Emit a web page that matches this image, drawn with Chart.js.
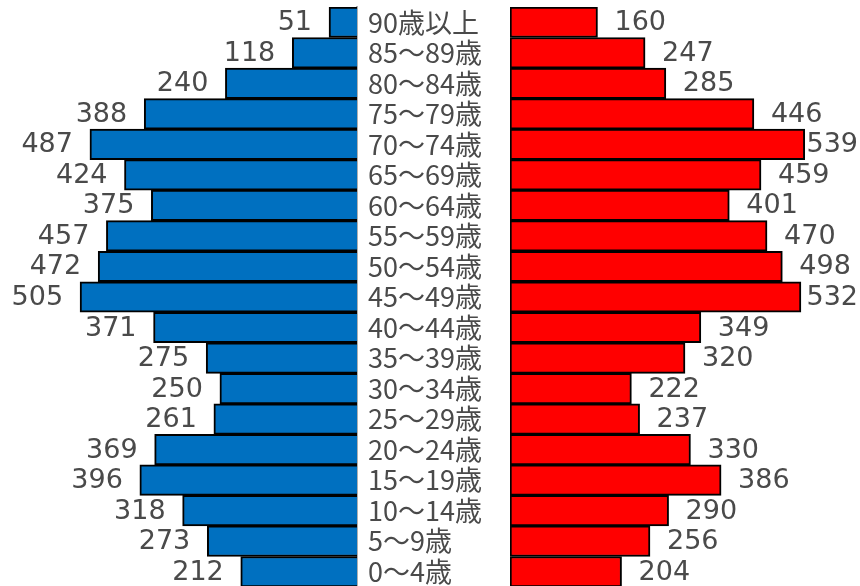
<!DOCTYPE html>
<html>
<head>
<meta charset="utf-8">
<script src="https://cdn.jsdelivr.net/npm/chart.js@4"></script>
<style>
  html, body { margin: 0; padding: 0; background: #fff; overflow: hidden; }
  #wrap { position: relative; width: 860px; height: 586px; overflow: hidden; }
  #maleChart { position: absolute; left: 0; top: 0; }
  #femaleChart { position: absolute; left: 510px; top: 0; }
</style>
</head>
<body>
<div id="wrap">
  <canvas id="maleChart" width="510" height="588"></canvas>
  <canvas id="femaleChart" width="350" height="588"></canvas>
</div>
<script>
const ageLabels = ["90歳以上","85～89歳","80～84歳","75～79歳","70～74歳","65～69歳","60～64歳","55～59歳","50～54歳","45～49歳","40～44歳","35～39歳","30～34歳","25～29歳","20～24歳","15～19歳","10～14歳","5～9歳","0～4歳"];
const male = [51,118,240,388,487,424,375,457,472,505,371,275,250,261,369,396,318,273,212];
const female = [160,247,285,446,539,459,401,470,498,532,349,320,222,237,330,386,290,256,204];

const textColor = "#4a4a4a";
const numFont = "27px 'DejaVu Sans'";

// writes the number next to the end of each bar
const valueLabels = {
    id: "valueLabels",
    afterDatasetsDraw(chart, args, opts) {
        const ctx = chart.ctx;
        const meta = chart.getDatasetMeta(0);
        const values = chart.data.datasets[0].data;
        ctx.save();
        ctx.font = numFont;
        ctx.fillStyle = textColor;
        ctx.textBaseline = "middle";
        for (let i = 0; i < meta.data.length; i++) {
            const bar = meta.data[i];
            const txt = String(values[i]);
            if (opts.side === "left") {
                ctx.textAlign = "right";
                ctx.fillText(txt, bar.x - 17, bar.y + 1);
            } else {
                ctx.textAlign = "left";
                var x = bar.x + 17;
                const w = ctx.measureText(txt).width;
                if (x + w > chart.width - 2) x = chart.width - 2 - w;
                ctx.fillText(txt, x, bar.y + 1);
            }
        }
        ctx.restore();
    }
};

new Chart(document.getElementById("maleChart").getContext("2d"), {
    type: "bar",
    data: {
        labels: ageLabels,
        datasets: [{
            label: "男",
            data: male,
            backgroundColor: "#0070c0",
            borderColor: "#000000",
            borderWidth: 2,
            categoryPercentage: 1,
            barPercentage: 1
        }]
    },
    options: {
        indexAxis: "y",
        responsive: false,
        animation: false,
        layout: { padding: { top: 7, bottom: 1 } },
        plugins: {
            legend: { display: false },
            tooltip: { enabled: false },
            valueLabels: { side: "left" }
        },
        scales: {
            x: { display: false, reverse: true, min: 0, max: 651 },
            y: {
                position: "right",
                grid: { display: false, drawTicks: false },
                border: { display: true, color: "#b0b0b0", width: 2 },
                ticks: {
                    autoSkip: false,
                    crossAlign: "near",
                    padding: 11,
                    color: textColor,
                    font: { family: "'Noto Sans CJK JP'", size: 27 }
                },
                afterFit(scale) {
                    scale.width = 153;
                    scale.paddingTop = 0;
                    scale.paddingBottom = 0;
                }
            }
        }
    },
    plugins: [valueLabels]
});

new Chart(document.getElementById("femaleChart").getContext("2d"), {
    type: "bar",
    data: {
        labels: ageLabels,
        datasets: [{
            label: "女",
            data: female,
            backgroundColor: "#ff0000",
            borderColor: "#000000",
            borderWidth: 2,
            borderSkipped: false,
            categoryPercentage: 1,
            barPercentage: 1
        }]
    },
    options: {
        indexAxis: "y",
        responsive: false,
        animation: false,
        layout: { padding: { top: 7, bottom: 1 } },
        plugins: {
            legend: { display: false },
            tooltip: { enabled: false },
            valueLabels: { side: "right" }
        },
        scales: {
            x: { display: false, min: 0, max: 640 },
            y: { display: false }
        }
    },
    plugins: [valueLabels]
});
</script>
</body>
</html>
